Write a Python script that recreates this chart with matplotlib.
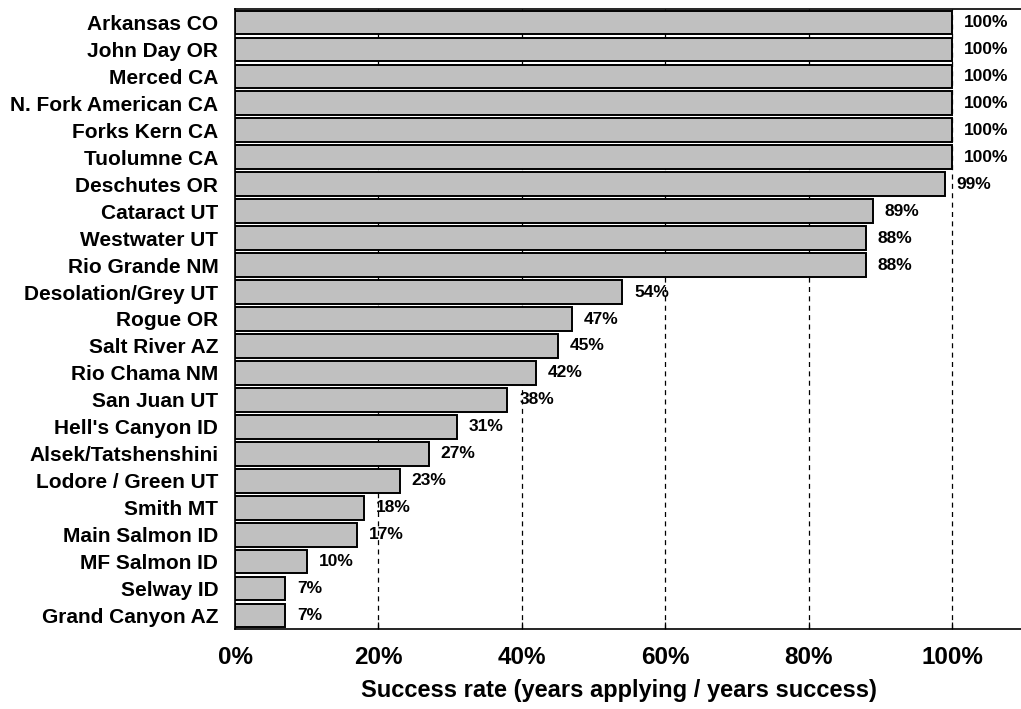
import matplotlib
matplotlib.use("Agg")
import matplotlib.pyplot as plt
from matplotlib.ticker import FixedLocator

rivers = ["Arkansas CO", "John Day OR", "Merced CA", "N. Fork American CA", "Forks Kern CA",
          "Tuolumne CA", "Deschutes OR", "Cataract UT", "Westwater UT", "Rio Grande NM",
          "Desolation/Grey UT", "Rogue OR", "Salt River AZ", "Rio Chama NM", "San Juan UT",
          "Hell's Canyon ID", "Alsek/Tatshenshini", "Lodore / Green UT", "Smith MT",
          "Main Salmon ID", "MF Salmon ID", "Selway ID", "Grand Canyon AZ"]
success = [100, 100, 100, 100, 100, 100, 99, 89, 88, 88, 54, 47, 45, 42, 38, 31, 27, 23,
           18, 17, 10, 7, 7]
xticks = [0, 20, 40, 60, 80, 100]
xlabel = "Success rate (years applying / years success)"

plt.rcParams['font.family'] = ['Liberation Sans', 'DejaVu Sans']

fig = plt.figure(figsize=(10.21, 7.09), dpi=100)
W, H = 1021, 709
left, right_px = 235, 235 + 717 * 1.1
top, bottom = 9, 629
ax = fig.add_axes([left / W, 1 - bottom / H, (right_px - left) / W, (bottom - top) / H])

ypos = list(range(len(rivers)))
ax.barh(ypos, success, height=0.88, color="#c0c0c0", edgecolor="black", linewidth=1.4, zorder=3)
ax.set_ylim(len(rivers) - 0.5, -0.5)
ax.set_xlim(0, 110)

for xv in xticks[1:]:
    ax.axvline(xv, color="black", linestyle=(0, (4, 3.5)), linewidth=0.9, zorder=1)

for y, v in zip(ypos, success):
    ax.annotate(f"{v}%", (v, y), xytext=(8.5, 0), textcoords="offset points",
                ha="left", va="center", fontsize=12.5, fontweight="bold", zorder=4)

ax.set_yticks(ypos)
ax.set_yticklabels(rivers, fontsize=15, fontweight="bold")
ax.xaxis.set_major_locator(FixedLocator(xticks))
ax.set_xticklabels([f"{t}%" for t in xticks], fontsize=17.5, fontweight="bold")
ax.tick_params(axis="y", length=0, pad=12)
ax.tick_params(axis="x", direction="in", length=5, width=0.9, pad=12)
ax.set_xlabel(xlabel, fontsize=17, fontweight="bold")
ax.xaxis.set_label_coords((619 - left) / (right_px - left), -(691 - bottom) / (bottom - top))
ax.xaxis.label.set_va("center")
for s in ax.spines.values():
    s.set_linewidth(1.2)

fig.savefig("out.png", dpi=100)
